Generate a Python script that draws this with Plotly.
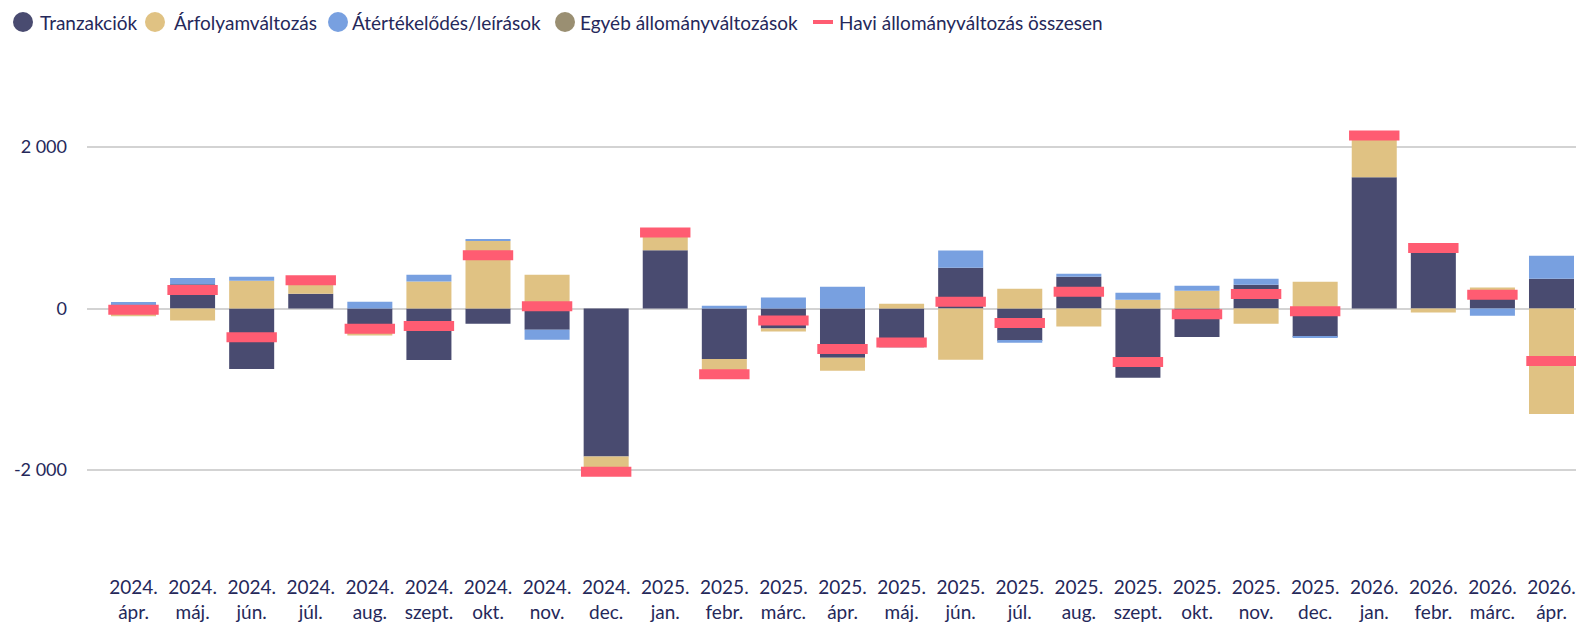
import plotly.graph_objects as go

honapok = ["2024.<br>ápr.", "2024.<br>máj.", "2024.<br>jún.", "2024.<br>júl.", "2024.<br>aug.",
           "2024.<br>szept.", "2024.<br>okt.", "2024.<br>nov.", "2024.<br>dec.", "2025.<br>jan.",
           "2025.<br>febr.", "2025.<br>márc.", "2025.<br>ápr.", "2025.<br>máj.", "2025.<br>jún.",
           "2025.<br>júl.", "2025.<br>aug.", "2025.<br>szept.", "2025.<br>okt.", "2025.<br>nov.",
           "2025.<br>dec.", "2026.<br>jan.", "2026.<br>febr.", "2026.<br>márc.", "2026.<br>ápr."]

tranzakciok = [5, 300, -748, 182, -300, -636, -190, -264, -1830, 720,
               -625, -248, -608, -480, 505, -402, 393, -857, -352, 294,
               -352, 1623, 795, 230, 368]
arfolyam = [-95, -150, 343, 169, -35, 335, 838, 417, -190, 220,
            -220, -37, -161, 58, -633, 244, -224, 108, 219, -190,
            331, 515, -48, 30, -1304]
atertekelodes = [75, 78, 50, 0, 83, 83, 12, -124, 0, 0,
                 33, 137, 269, 0, 211, -21, 37, 87, 62, 75,
                 -12, 0, 0, -91, 286]
egyeb = [0] * 25
osszesen = [-15, 228, -355, 351, -252, -218, 660, 29, -2020, 940,
            -812, -148, -500, -422, 83, -179, 206, -662, -71, 179,
            -33, 2140, 747, 169, -650]

y_tick_vals = [-2000, 0, 2000]
y_tick_text = ["-2 000", "0", "2 000"]

sorozat_nevek = ["Tranzakciók", "Árfolyamváltozás", "Átértékelődés/leírások",
                 "Egyéb állományváltozások", "Havi állományváltozás összesen"]
szinek = ["#494B70", "#E0C283", "#78A0E0", "#9A8F72", "#FF5C72"]
szoveg = "#25285A"

W, H = 1576, 614          # page body has an 8px margin, so the figure is a bit smaller than the window
L, R, T, B = 79, 0, 58, 71
pw, ph = W - L - R, H - T - B

fig = go.Figure()

for nev, ertekek, szin in zip(sorozat_nevek[:4], [tranzakciok, arfolyam, atertekelodes, egyeb], szinek[:4]):
    fig.add_trace(go.Bar(x=honapok, y=ertekek, name=nev, marker_color=szin,
                         marker_line_width=0, showlegend=False))

# line-ew symbol is drawn 1.4x the marker size -> ~50px wide
fig.add_trace(go.Scatter(x=honapok, y=osszesen, mode="markers", name=sorozat_nevek[4], showlegend=False,
                         marker=dict(symbol="line-ew", size=36, color=szinek[4],
                                     line=dict(width=10, color=szinek[4]))))

# hand placed legend (pixel positions from the reference), converted to paper coords
def px_x(x):
    return (x - L) / pw

def px_y(y):
    return (H - B - y) / ph

leg_y = 14
jel_x = [15, 147, 330, 557, 815]
szoveg_x = [30, 164, 342, 570, 829]
for i, nev in enumerate(sorozat_nevek):
    if i < 4:
        fig.add_shape(type="circle", xref="paper", yref="paper", xsizemode="pixel", ysizemode="pixel",
                      xanchor=px_x(jel_x[i]), yanchor=px_y(leg_y), x0=-10, x1=10, y0=-10, y1=10,
                      fillcolor=szinek[i], line_width=0)
    else:
        fig.add_shape(type="line", xref="paper", yref="paper",
                      x0=px_x(jel_x[i] - 10), x1=px_x(jel_x[i] + 10), y0=px_y(leg_y), y1=px_y(leg_y),
                      line=dict(color=szinek[i], width=4))
    fig.add_annotation(x=px_x(szoveg_x[i]), y=px_y(leg_y), xref="paper", yref="paper", text=nev,
                       showarrow=False, xanchor="left", yanchor="middle",
                       font=dict(size=19, color=szoveg))

fig.update_layout(
    barmode="relative",
    bargap=0.238,
    width=W, height=H,
    plot_bgcolor="white", paper_bgcolor="white",
    margin=dict(l=L, r=R, t=T, b=B, autoexpand=False),
    font=dict(family="Lato", size=19, color=szoveg),
    showlegend=False,
)
fig.update_xaxes(range=[-0.787, 24.55], showgrid=False, showline=False, ticks="",
                 tickfont=dict(size=19, color=szoveg), tickangle=0, ticklabelstandoff=23,
                 automargin=False)
fig.update_yaxes(range=[-3000, 3000], tickvals=y_tick_vals, ticktext=y_tick_text,
                 showgrid=True, gridcolor="#D3D3D3", gridwidth=2, zeroline=False,
                 ticklabelstandoff=19, tickfont=dict(size=18, color=szoveg), automargin=False)

fig.write_html("out.html")
